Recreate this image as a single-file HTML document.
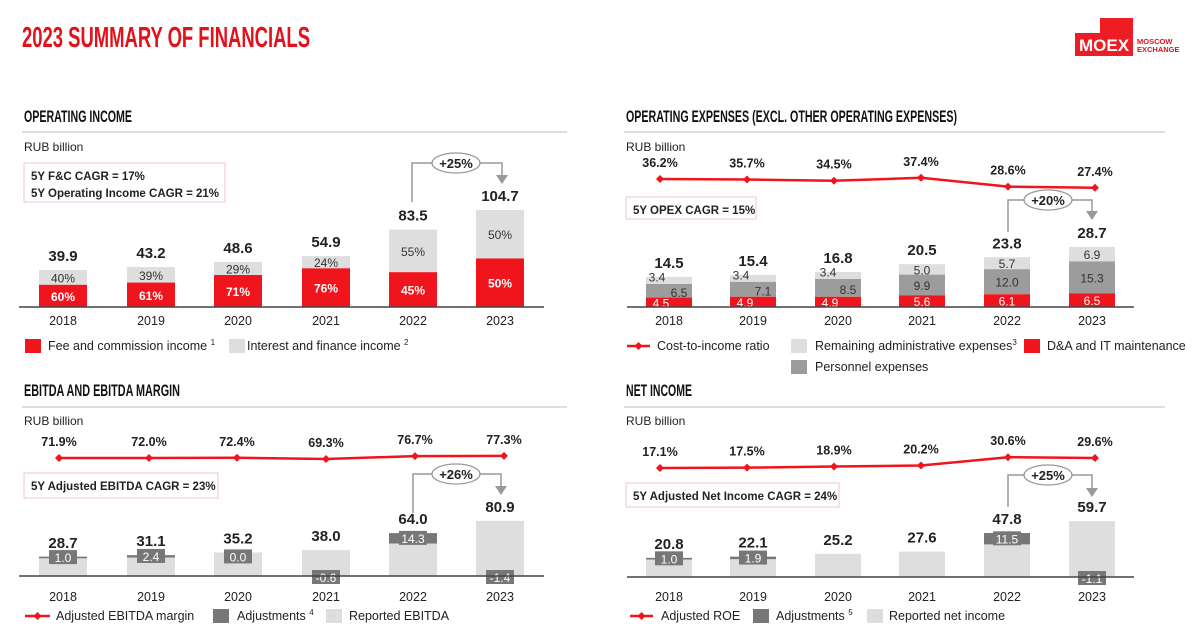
<!DOCTYPE html>
<html><head><meta charset="utf-8"><style>
html,body{margin:0;padding:0;background:#fff;width:1200px;height:640px;overflow:hidden}
svg{display:block;font-family:"Liberation Sans",sans-serif}
.h{font-family:"Liberation Sans Narrow","Liberation Sans",sans-serif;font-weight:bold}
</style></head><body>
<svg id="s" width="1200" height="640" viewBox="0 0 1200 640" xmlns="http://www.w3.org/2000/svg">
<text x="22" y="47" class="h" font-size="29" fill="#e4111b" textLength="288" lengthAdjust="spacingAndGlyphs">2023 SUMMARY OF FINANCIALS</text>
<g>
<path d="M1075 33 H1100 V18 H1133 V56 H1075 Z" fill="#ee1c25"/>
<text x="1104" y="51" font-size="17" font-weight="bold" fill="#fff" text-anchor="middle">MOEX</text>
<text x="1137" y="44" font-size="7.5" font-weight="bold" fill="#e4111b">MOSCOW</text>
<text x="1137" y="52" font-size="7.5" font-weight="bold" fill="#e4111b">EXCHANGE</text>
</g>
<g id="root"></g>
</svg>
<script>
const years = ['2018','2019','2020','2021','2022','2023'];
const opIncomeTotal = [39.9,43.2,48.6,54.9,83.5,104.7];
const feePct = [60,61,71,76,45,50];
const opexTotal = [14.5,15.4,16.8,20.5,23.8,28.7];
const opexDA = [4.5,4.9,4.9,5.6,6.1,6.5];
const opexPersonnel = [6.5,7.1,8.5,9.9,12.0,15.3];
const opexRemaining = [3.4,3.4,3.4,5.0,5.7,6.9];
const costIncome = [36.2,35.7,34.5,37.4,28.6,27.4];
const ebitdaTotal = [28.7,31.1,35.2,38.0,64.0,80.9];
const ebitdaAdjustments = [1.0,2.4,0.0,-0.6,14.3,-1.4];
const ebitdaMargin = [71.9,72.0,72.4,69.3,76.7,77.3];
const netTotal = [20.8,22.1,25.2,27.6,47.8,59.7];
const netAdjustments = [1.0,1.9,null,null,11.5,-1.1];
const roe = [17.1,17.5,18.9,20.2,30.6,29.6];

const RED='#f0141c', LG='#dedede', MG='#9c9c9c', DG='#777';
const NS='http://www.w3.org/2000/svg';
const root=document.getElementById('root');
function el(tag,attrs,parent,text){const e=document.createElementNS(NS,tag);for(const k in attrs)e.setAttribute(k,attrs[k]);if(text!=null)e.textContent=text;(parent||root).appendChild(e);return e;}
function txt(x,y,s,size,opts,parent){const a=Object.assign({x:x,y:y,'font-size':size,fill:'#222'},opts||{});return el('text',a,parent,s);}

function header(x,y,title,tl,lineY,x2,rubY){
  const t=txt(x,y,title,17,{class:'h',fill:'#111',textLength:tl,lengthAdjust:'spacingAndGlyphs'});
  
  
  const l=el('line',{x1:x-2,y1:lineY,x2:x2,y2:lineY,stroke:'#d4d4d4','stroke-width':1.5});
  
  
  const r=txt(x,rubY,'RUB billion',12);
  
  
}
function cagrBox(x,y,w,h,lines){
  const g=el('g',{});
  
  
  el('rect',{x:x,y:y,width:w,height:h,fill:'#fff',stroke:'#f2c4c4','stroke-width':1},g);
  lines.forEach((s,i)=>txt(x+7,y+(lines.length>1?17+i*17:17),s,11.5,{'font-weight':'bold'},g));
}
function growth(x1,yBot,yTop,x2,yEnd,cx,label){
  const g=el('g',{});
  
  
  el('polyline',{points:`${x1},${yBot} ${x1},${yTop} ${x2},${yTop} ${x2},${yEnd-6}`,fill:'none',stroke:'#999','stroke-width':1.5},g);
  el('path',{d:`M${x2-6},${yEnd-7} L${x2+6},${yEnd-7} L${x2},${yEnd+2} Z`,fill:'#999'},g);
  el('ellipse',{cx:cx,cy:yTop,rx:24,ry:10,fill:'#fff',stroke:'#999','stroke-width':1.3},g);
  txt(cx,yTop+5,label,13,{'font-weight':'bold','text-anchor':'middle'},g);
}
function axis(x1,x2,y){const a=el('line',{x1:x1,y1:y,x2:x2,y2:y,stroke:'#444','stroke-width':1.5});
  
  }
function yearLabels(xs,y){years.forEach((yr,i)=>{const t=txt(xs[i],y,yr,12.5,{'text-anchor':'middle'});
  
  });}
function lineSeries(xs,vals,yf,name){
  const pts=vals.map((v,i)=>xs[i]+','+yf(v)).join(' ');
  const p=el('polyline',{points:pts,fill:'none',stroke:RED,'stroke-width':2.5});
  
  
  vals.forEach((v,i)=>{const y=yf(v);
    const d=el('path',{d:`M${xs[i]-4},${y} L${xs[i]},${y-4} L${xs[i]+4},${y} L${xs[i]},${y+4} Z`,fill:RED});
    
    
    const t=txt(xs[i],y-12,v.toFixed(1)+'%',12.5,{'font-weight':'bold','text-anchor':'middle'});
    
    });
}
function legendSq(x,y,c,label,tx){
  const g=el('g',{});
  
  
  el('rect',{x:x,y:y-11,width:16,height:14,fill:c},g);
  const t=txt(tx,y,'',12.5,{},g);
  t.innerHTML=label;
}
function legendLine(x1,x2,y,label,tx){
  const g=el('g',{});
  
  
  el('line',{x1:x1,y1:y-4,x2:x2,y2:y-4,stroke:RED,'stroke-width':2.5},g);
  const m=(x1+x2)/2;
  el('path',{d:`M${m-4},${y-4} L${m},${y-8} L${m+4},${y-4} L${m},${y} Z`,fill:RED},g);
  txt(tx,y,label,12.5,{},g);
}
const xL=[63,151,238,326,413,500], xR=[669,753,838,922,1007,1092];
const ptR=[660,747,834,921,1008,1095];

/* Panel 1: Operating income */
header(24,122,'OPERATING INCOME',108,132,567,151);
cagrBox(24,163,201,39,['5Y F&C CAGR = 17%','5Y Operating Income CAGR = 21%']);
(function(){const base=307,k=0.927,w=48;
 opIncomeTotal.forEach((t,i)=>{const x=xL[i]-w/2,hT=t*k,hR=t*feePct[i]/100*k;
  const g=el('rect',{x:x,y:base-hT,width:w,height:hT-hR,fill:LG});
  
  
  const r=el('rect',{x:x,y:base-hR,width:w,height:hR,fill:RED});
  
  
  txt(xL[i],base-hR/2+5,feePct[i]+'%',12,{'font-weight':'bold',fill:'#fff','text-anchor':'middle'});
  txt(xL[i],base-hR-(hT-hR)/2+5,(100-feePct[i])+'%',12,{fill:'#333','text-anchor':'middle'});
  txt(xL[i],base-hT-9,t.toFixed(1),15,{'font-weight':'bold','text-anchor':'middle'});
 });
 axis(19,544,base);yearLabels(xL,325);
})();
growth(412,202,163,502,182,456,'+25%');
legendSq(25,350,RED,'Fee and commission income <tspan font-size="8" dy="-5">1</tspan>',48);
legendSq(229,350,LG,'Interest and finance income <tspan font-size="8" dy="-5">2</tspan>',247);

/* Panel 2: OPEX */
header(626,122,'OPERATING EXPENSES (EXCL. OTHER OPERATING EXPENSES)',331,132,1165,151);
lineSeries(ptR,costIncome,v=>179-(v-36.2)*1.0,'cost-to-income');
cagrBox(626,197,130,22,['5Y OPEX CAGR = 15%']);
(function(){const base=307,k=2.09,w=46;
 opexTotal.forEach((t,i)=>{const x=xR[i]-w/2;
  const hD=opexDA[i]*k,hP=opexPersonnel[i]*k,hRm=opexRemaining[i]*k;
  const a=el('rect',{x:x,y:base-hD-hP-hRm,width:w,height:hRm,fill:LG});
  
  
  const b=el('rect',{x:x,y:base-hD-hP,width:w,height:hP,fill:MG});
  
  
  const c=el('rect',{x:x,y:base-hD,width:w,height:hD,fill:RED});
  
  
  const small=i<3;
  txt(xR[i]-(small?8:0),base-hD/2+5,opexDA[i].toFixed(1),12,{fill:'#fff','text-anchor':'middle'});
  txt(xR[i]+(small?10:0),base-hD-hP/2+(small?6:5),opexPersonnel[i].toFixed(1),12,{fill:'#333','text-anchor':'middle'});
  txt(xR[i]-(small&&i<2?12:(small?10:0)),base-hD-hP-hRm/2+(small?1:5),opexRemaining[i].toFixed(1),12,{fill:'#333','text-anchor':'middle'});
  txt(xR[i],base-hD-hP-hRm-9,t.toFixed(1),15,{'font-weight':'bold','text-anchor':'middle'});
 });
 axis(627,1134,base);yearLabels(xR,325);
})();
growth(1008,232,200,1092,218,1048,'+20%');
legendLine(627,650,350,'Cost-to-income ratio',657);
legendSq(791,350,LG,'Remaining administrative expenses<tspan font-size="8" dy="-5">3</tspan>',815);
legendSq(1024,350,RED,'D&amp;A and IT maintenance',1047);
legendSq(791,371,MG,'Personnel expenses',815);

/* Adjusted bars helper */
function adjBars(xs,w,totals,adjs,base,k,name){
  totals.forEach((t,i)=>{const a=adjs[i]||0,rep=t-a,x=xs[i]-w/2,hR=rep*k;
   const r=el('rect',{x:x,y:base-hR,width:w,height:hR,fill:LG});
   
   
   let top=base-hR;
   if(adjs[i]!=null){
    if(a>0){const hA=a*k;
      const s=el('rect',{x:x,y:base-hR-hA,width:w,height:hA,fill:DG});
      
      
      top=base-hR-hA;
      const cy=base-hR-hA/2;
      el('line',{x1:x,y1:base-hR,x2:x+w,y2:base-hR,stroke:DG,'stroke-width':1.5});
      el('rect',{x:xs[i]-14,y:cy-7,width:28,height:14,fill:DG});
      txt(xs[i],cy+5,a.toFixed(1),12,{fill:'#fff','text-anchor':'middle'});
    } else if(a===0){
      el('rect',{x:xs[i]-14,y:top-3,width:28,height:14,fill:DG});
      txt(xs[i],top+9,'0.0',12,{fill:'#fff','text-anchor':'middle'});
    } else {
      el('rect',{x:xs[i]-14,y:base-6,width:28,height:14,fill:DG});
      txt(xs[i],base+6,a.toFixed(1),12,{fill:'#fff','text-anchor':'middle'});
    }
   }
   const lt=Math.min(top,base-t*k);
   txt(xs[i],lt-9,t.toFixed(1),15,{'font-weight':'bold','text-anchor':'middle'});
  });
}

/* Panel 3: EBITDA */
header(24,396,'EBITDA AND EBITDA MARGIN',156,407,567,425);
lineSeries(xL.map((x,i)=>[59,149,237,326,415,504][i]),ebitdaMargin,v=>458-(v-71.9)*0.4,'ebitda-margin');
cagrBox(24,473,194,25,['5Y Adjusted EBITDA CAGR = 23%']);
adjBars(xL,48,ebitdaTotal,ebitdaAdjustments,576,0.67,'ebitda');
axis(19,544,576);yearLabels(xL,601);
growth(413,513,474,501,493,456,'+26%');
legendLine(25,50,620,'Adjusted EBITDA margin',56);
legendSq(213,620,DG,'Adjustments <tspan font-size="8" dy="-5">4</tspan>',237);
legendSq(326,620,LG,'Reported EBITDA',349);

/* Panel 4: Net income */
header(626,396,'NET INCOME',66,407,1165,425);
lineSeries(ptR,roe,v=>468-(v-17.1)*0.8,'adjusted-roe');
cagrBox(626,483,213,24,['5Y Adjusted Net Income CAGR = 24%']);
adjBars(xR,46,netTotal,netAdjustments,577,0.92,'net-income');
axis(627,1134,577);yearLabels(xR,601);
growth(1008,507,475,1092,495,1048,'+25%');
legendLine(630,653,620,'Adjusted ROE',661);
legendSq(753,620,DG,'Adjustments <tspan font-size="8" dy="-5">5</tspan>',776);
legendSq(867,620,LG,'Reported net income',889);
</script>
</body></html>
